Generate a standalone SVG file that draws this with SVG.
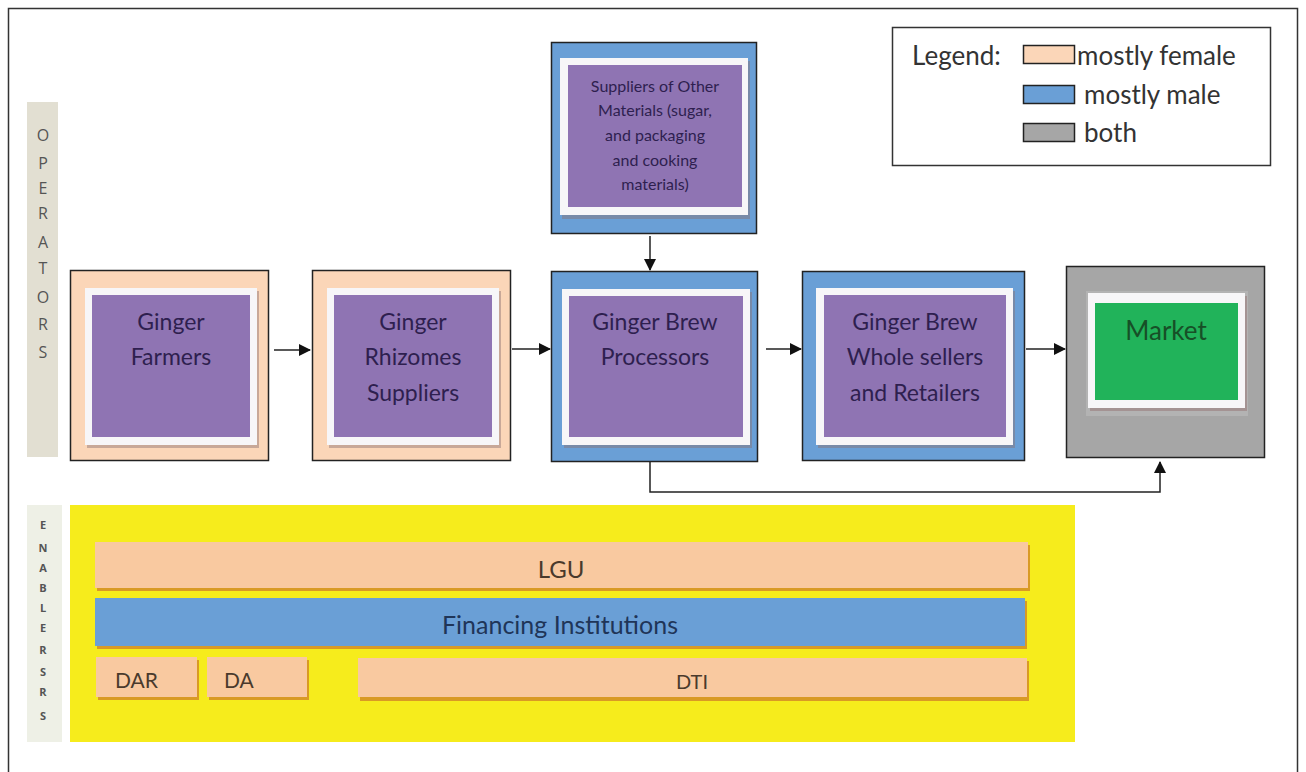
<svg xmlns="http://www.w3.org/2000/svg" width="1306" height="772" viewBox="0 0 1306 772">
<defs>
<style>
.t{font-family:Lato,"Open Sans","Liberation Sans",sans-serif;}
.nt{font-family:Lato,"Open Sans","Liberation Sans",sans-serif;font-size:23px;fill:#2e1f4f;text-anchor:middle;}
.st{font-family:Lato,"Open Sans","Liberation Sans",sans-serif;font-size:16px;fill:#2e1f4f;text-anchor:middle;}
.out{stroke:#222;stroke-width:1.5;}
.fem{fill:#fbd6b8;}
.male{fill:#6a9fd6;}
.both{fill:#a6a6a6;}
.wf{fill:#f7f6f8;}
.sh{fill:#8a7070;opacity:0.45;}
.pur{fill:#8f74b3;}
.bar{fill:#f9c9a0;}
.bsh{fill:#d99a25;}
.side{font-family:"Open Sans","Liberation Sans",sans-serif;fill:#555;text-anchor:middle;}
.lg{font-family:Lato,"Open Sans","Liberation Sans",sans-serif;font-size:26px;fill:#333;}
.conn{stroke:#222;stroke-width:1.5;fill:none;}
</style>
<marker id="ah" markerWidth="12" markerHeight="12" refX="11" refY="6" orient="auto" markerUnits="userSpaceOnUse">
<path d="M0,0 L12,6 L0,12 Z" fill="#111"/>
</marker>
</defs>
<rect x="0" y="0" width="1306" height="772" fill="#fff"/>
<rect x="8.5" y="8.5" width="1289" height="800" fill="none" stroke="#333" stroke-width="1.5"/>

<g id="operators-label">
<rect x="27" y="102" width="31" height="355" fill="#e2dfd2"/>
<g class="side" font-size="16">
<text x="43" y="141">O</text><text x="43" y="169">P</text><text x="43" y="194">E</text><text x="43" y="219">R</text><text x="43" y="248">A</text><text x="43" y="274">T</text><text x="43" y="303">O</text><text x="43" y="330">R</text><text x="43" y="358">S</text>
</g>
</g>

<g id="enablers-label">
<rect x="27" y="505" width="35" height="237" fill="#eef0e6"/>
<g class="side" font-size="11" font-weight="bold">
<text x="43" y="529">E</text><text x="43" y="552">N</text><text x="43" y="572">A</text><text x="43" y="592">B</text><text x="43" y="612">L</text><text x="43" y="632">E</text><text x="43" y="654">R</text><text x="43" y="676">S</text><text x="43" y="696">R</text><text x="43" y="720">S</text>
</g>
</g>

<g id="legend">
<rect x="892.5" y="27.5" width="378" height="138" fill="#fff" stroke="#333" stroke-width="1.5"/>
<text class="lg" x="912" y="65">Legend:</text>
<rect class="fem" x="1023.5" y="45.5" width="51" height="18" stroke="#222" stroke-width="1.5"/>
<text class="lg" x="1077" y="65">mostly female</text>
<rect class="male" x="1023.5" y="85.5" width="51" height="18" stroke="#222" stroke-width="1.5"/>
<text class="lg" x="1084" y="104">mostly male</text>
<rect class="both" x="1023.5" y="123.5" width="51" height="18" stroke="#222" stroke-width="1.5"/>
<text class="lg" x="1084" y="142">both</text>
</g>

<g id="node-suppliers">
<rect class="male out" x="551.5" y="42.5" width="205" height="191"/>
<rect class="sh" x="562" y="61" width="188" height="158"/>
<rect class="wf" x="560" y="58" width="188" height="157"/>
<rect class="pur" x="568" y="65" width="174" height="142"/>
<text class="st" x="655" y="92">Suppliers of Other</text>
<text class="st" x="655" y="116">Materials (sugar,</text>
<text class="st" x="655" y="141">and packaging</text>
<text class="st" x="655" y="166">and cooking</text>
<text class="st" x="655" y="190">materials)</text>
</g>

<g id="node-farmers">
<rect class="fem out" x="70.5" y="270.5" width="198" height="190"/>
<rect class="sh" x="87" y="291" width="172" height="157"/>
<rect class="wf" x="85" y="288" width="172" height="157"/>
<rect class="pur" x="92" y="295" width="158" height="142"/>
<text class="nt" x="171" y="330">Ginger</text>
<text class="nt" x="171" y="365">Farmers</text>
</g>

<g id="node-rhizomes">
<rect class="fem out" x="312.5" y="270.5" width="198" height="190"/>
<rect class="sh" x="329" y="291" width="172" height="157"/>
<rect class="wf" x="327" y="288" width="172" height="157"/>
<rect class="pur" x="334" y="295" width="158" height="142"/>
<text class="nt" x="413" y="330">Ginger</text>
<text class="nt" x="413" y="365">Rhizomes</text>
<text class="nt" x="413" y="401">Suppliers</text>
</g>

<g id="node-processors">
<rect class="male out" x="551.5" y="271.5" width="206" height="190"/>
<rect class="sh" x="564" y="292" width="188" height="156"/>
<rect class="wf" x="562" y="289" width="188" height="156"/>
<rect class="pur" x="569" y="296" width="174" height="141"/>
<text class="nt" x="655" y="330">Ginger Brew</text>
<text class="nt" x="655" y="365">Processors</text>
</g>

<g id="node-wholesalers">
<rect class="male out" x="802.5" y="271.5" width="222" height="189"/>
<rect class="sh" x="818" y="291" width="197" height="157"/>
<rect class="wf" x="816" y="288" width="197" height="157"/>
<rect class="pur" x="824" y="295" width="182" height="142"/>
<text class="nt" x="915" y="330">Ginger Brew</text>
<text class="nt" x="915" y="365">Whole sellers</text>
<text class="nt" x="915" y="401">and Retailers</text>
</g>

<g id="node-market">
<rect class="both out" x="1066.5" y="266.5" width="198" height="191"/>
<rect x="1086" y="291" width="162" height="125" fill="#b3b3b3"/>
<rect fill="#9a7d7d" opacity="0.6" x="1090" y="296" width="157" height="115"/>
<rect class="wf" x="1088" y="293" width="157" height="115"/>
<rect x="1095" y="303" width="143" height="97" fill="#21b35a"/>
<text x="1166" y="340" font-family="Lato,'Open Sans','Liberation Sans',sans-serif" font-size="26" fill="#174f27" text-anchor="middle">Market</text>
</g>

<g id="enablers">
<rect x="70" y="505" width="1005" height="237" fill="#f6ec1c"/>
<g id="node-lgu">
<rect class="bsh" x="97" y="545" width="933" height="46"/>
<rect class="bar" x="95" y="542" width="933" height="46"/>
<text class="t" x="561" y="578" font-size="24" fill="#4a3a2c" text-anchor="middle">LGU</text>
</g>
<g id="node-financing">
<rect class="bsh" x="97" y="601" width="930" height="48"/>
<rect x="95" y="598" width="930" height="48" fill="#6a9fd6"/>
<text class="t" x="560" y="634" font-size="25" fill="#1f3558" text-anchor="middle">Financing Institutions</text>
</g>
<g id="node-dar">
<rect class="bsh" x="98" y="660" width="101" height="40"/>
<rect class="bar" x="96" y="657" width="101" height="40"/>
<text class="t" x="115" y="688" font-size="21" fill="#4a3a2c">DAR</text>
</g>
<g id="node-da">
<rect class="bsh" x="209" y="660" width="100" height="40"/>
<rect class="bar" x="207" y="657" width="100" height="40"/>
<text class="t" x="224" y="688" font-size="21" fill="#4a3a2c">DA</text>
</g>
<g id="node-dti">
<rect class="bsh" x="360" y="661" width="669" height="40"/>
<rect class="bar" x="358" y="658" width="669" height="39"/>
<text class="t" x="692" y="689" font-size="20" fill="#4a3a2c" text-anchor="middle">DTI</text>
</g>
</g>

<g id="connectors">
<line class="conn" x1="650" y1="236" x2="650" y2="270" marker-end="url(#ah)"/>
<line class="conn" x1="274" y1="350" x2="310" y2="350" marker-end="url(#ah)"/>
<line class="conn" x1="512" y1="349" x2="550" y2="349" marker-end="url(#ah)"/>
<line class="conn" x1="766" y1="349" x2="801" y2="349" marker-end="url(#ah)"/>
<line class="conn" x1="1026" y1="349" x2="1065" y2="349" marker-end="url(#ah)"/>
<polyline class="conn" points="650,462 650,492 1160,492 1160,462" marker-end="url(#ah)"/>
</g>
</svg>
